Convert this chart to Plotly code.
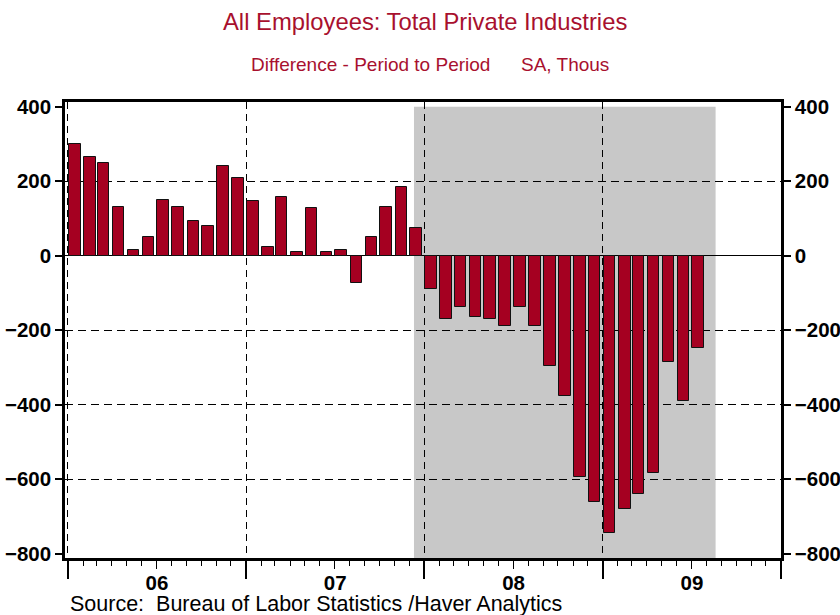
import pandas as pd
import plotly.graph_objects as go

# ---- data ----
start_month = "2006-01-01"
changes_2006 = [301, 265, 249, 132, 16, 50, 151, 132, 93, 80, 242, 210]
changes_2007 = [148, 23, 157, 11, 127, 11, 16, -72, 51, 132, 185, 75]
changes_2008 = [-90, -170, -139, -164, -170, -188, -139, -188, -296, -377, -595, -662]
changes_2009 = [-744, -680, -640, -583, -286, -390, -249]
values = changes_2006 + changes_2007 + changes_2008 + changes_2009
months = pd.date_range(start_month, periods=len(values), freq="MS") + pd.Timedelta(days=14)

recession_start = "2007-12-11"
recession_end = "2009-08-20"

y_ticks = [-800, -600, -400, -200, 0, 200, 400]
grid_ticks = [-600, -400, -200, 200]

title = "All Employees: Total Private Industries"
subtitle_left = "Difference - Period to Period"
subtitle_right = "SA, Thous"
source = "Source:  Bureau of Labor Statistics /Haver Analytics"

# ---- style ----
FONT = "Liberation Sans, Arial, sans-serif"
RED = "#A8102E"
BAR = "#A50021"
x_range = ["2005-12-26", "2010-01-01"]
y_range = [-812, 413]
L, R, T, B = 65, 59, 102, 57
W, H = 840, 615
pw, ph = W - L - R, H - T - B


def px_x(p):
    return (p - L) / pw


def px_y(p):
    return (H - B - p) / ph


fig = go.Figure()
fig.add_trace(go.Bar(
    x=months, y=values,
    width=23.6 * 86400000,
    marker=dict(color=BAR, line=dict(color="#111111", width=1)),
    showlegend=False, hoverinfo="x+y",
))

tickfont = dict(family=FONT, size=20.5, color="black", weight="bold")

fig.update_layout(
    width=W, height=H,
    margin=dict(l=L, r=R, t=T, b=B, pad=0, autoexpand=False),
    paper_bgcolor="white", plot_bgcolor="white",
    bargap=0,
    xaxis=dict(
        type="date", range=x_range, automargin=False,
        tick0="2006-01-01", dtick="M12",
        ticklabelmode="period", tickformat="%y", ticklabelstandoff=-13,
        ticks="outside", ticklen=18, tickwidth=1.5, tickcolor="black",
        tickfont=tickfont,
        showline=True, linewidth=2.5, linecolor="black", mirror=True,
        showgrid=True, gridcolor="black", gridwidth=1, griddash="7px,5px",
        zeroline=False,
        minor=dict(dtick="M1", ticks="outside", ticklen=5, tickwidth=1,
                   tickcolor="black", showgrid=False),
    ),
    xaxis2=dict(
        type="date", range=x_range, overlaying="x", anchor="y", side="bottom",
        automargin=False,
        tick0="2006-07-01", dtick="M12",
        ticks="outside", ticklen=10, tickwidth=1.2, tickcolor="black",
        showticklabels=False, showgrid=False, showline=False, zeroline=False,
    ),
    yaxis=dict(
        range=y_range, tickvals=y_ticks, automargin=False,
        ticks="outside", ticklen=7, tickwidth=2, tickcolor="black",
        tickfont=tickfont,
        showline=True, linewidth=2.5, linecolor="black",
        showgrid=False,
        zeroline=True, zerolinecolor="black", zerolinewidth=1,
    ),
    yaxis2=dict(
        range=y_range, tickvals=y_ticks, overlaying="y", side="right", anchor="x",
        automargin=False,
        ticks="outside", ticklen=7, tickwidth=2, tickcolor="black",
        tickfont=tickfont,
        showline=True, linewidth=2.5, linecolor="black",
        showgrid=False, zeroline=False,
    ),
    yaxis3=dict(
        range=y_range, tickvals=grid_ticks, overlaying="y", side="left", anchor="x",
        automargin=False,
        showticklabels=False, ticks="",
        showgrid=True, gridcolor="black", gridwidth=1, griddash="8px,5px",
        showline=False, zeroline=False,
    ),
    shapes=[dict(
        type="rect", xref="x", yref="y",
        x0=recession_start, x1=recession_end, y0=y_range[0], y1=400,
        fillcolor="#C8C8C8", line=dict(width=0), layer="below",
    )],
    annotations=[
        dict(text=title, xref="paper", yref="paper", x=px_x(424.5), y=px_y(21),
             xanchor="center", yanchor="middle", showarrow=False,
             font=dict(family=FONT, size=23.8, color=RED)),
        dict(text=subtitle_left, xref="paper", yref="paper", x=px_x(249), y=px_y(65),
             xanchor="left", yanchor="middle", showarrow=False,
             font=dict(family=FONT, size=19, color=RED)),
        dict(text=subtitle_right, xref="paper", yref="paper", x=px_x(519), y=px_y(65),
             xanchor="left", yanchor="middle", showarrow=False,
             font=dict(family=FONT, size=19, color=RED)),
        dict(text=source, xref="paper", yref="paper", x=px_x(68), y=px_y(604),
             xanchor="left", yanchor="middle", showarrow=False,
             font=dict(family=FONT, size=21.5, color="black")),
    ],
)

# invisible anchors so the overlay axes are drawn
fig.add_trace(go.Scatter(x=[], y=[], xaxis="x2", yaxis="y2", showlegend=False))
fig.add_trace(go.Scatter(x=[], y=[], xaxis="x", yaxis="y3", showlegend=False))

fig.write_html("out.html", config={"displayModeBar": False},
               post_script="document.body.style.margin='0';")
